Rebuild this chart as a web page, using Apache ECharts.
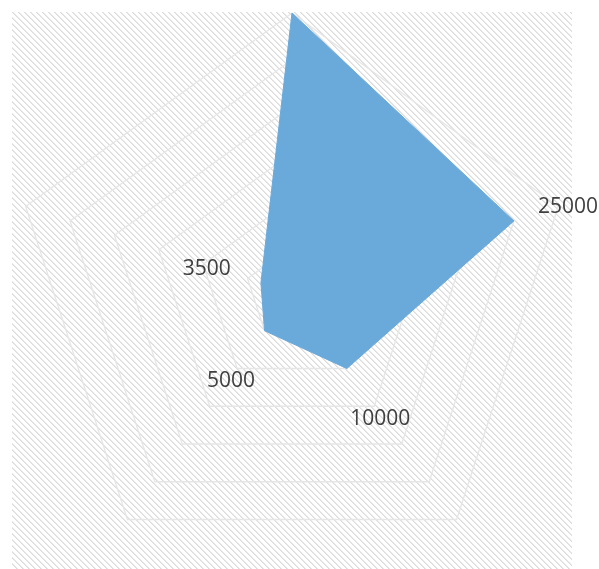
<!DOCTYPE html>
<html>
<head>
<meta charset="utf-8">
<script src="https://cdn.jsdelivr.net/npm/echarts@6/dist/echarts.min.js"></script>
<style>
html,body{margin:0;padding:0;background:#ffffff;}
#chart{width:599px;height:569px;}
</style>
</head>
<body>
<div id="chart"></div>
<script>
// Indicators in ECharts order (top, then counter-clockwise)
var indicatorNames = ['', '', '', '', ''];
var seriesValues = [30000, 3500, 5000, 10000, 25000];
var axisMax = 30000;
var axisSplits = 6;

// label placement: a padding (in value units) pushed outward along each axis
var LABEL_PAD = 6100;

function makeHatch() {
  var c = document.createElement('canvas');
  var n = 6;
  c.width = n; c.height = n;
  var ctx = c.getContext('2d');
  ctx.fillStyle = '#ffffff';
  ctx.fillRect(0, 0, n, n);
  for (var y = 0; y < n; y++) {
    for (var x = 0; x < n; x++) {
      var d = ((x - y) % n + n) % n;
      if (d === 0) { ctx.fillStyle = '#dcdcdc'; ctx.fillRect(x, y, 1, 1); }
      else if (d === 1) { ctx.fillStyle = '#e9e9e9'; ctx.fillRect(x, y, 1, 1); }
    }
  }
  return c;
}

var chart = echarts.init(document.getElementById('chart'), null, {renderer: 'canvas'});
var option = {
  animation: false,
  backgroundColor: '#ffffff',
  graphic: [{
    type: 'rect',
    z: -10,
    shape: {x: 12, y: 12, width: 560, height: 557},
    style: {fill: {image: makeHatch(), repeat: 'repeat'}},
    silent: true
  }],
  radar: {
    center: [292, 293],
    radius: 280,
    shape: 'polygon',
    splitNumber: axisSplits,
    indicator: indicatorNames.map(function (n) { return {name: n, min: 0, max: axisMax}; }),
    axisName: {show: false},
    axisLine: {show: false},
    axisTick: {show: false},
    axisLabel: {show: false},
    splitArea: {show: false},
    splitLine: {lineStyle: {color: '#e6e6e6', width: 1.3}}
  },
  series: [{
    type: 'radar',
    symbol: 'none',
    z: 3,
    lineStyle: {color: '#6AAADB', width: 1},
    areaStyle: {color: '#6AAADB', opacity: 1},
    data: [{value: seriesValues}]
  }, {
    type: 'radar',
    z: 4,
    symbol: 'circle',
    symbolSize: 1,
    itemStyle: {color: 'transparent'},
    lineStyle: {width: 0, opacity: 0},
    label: {
      show: true,
      position: 'inside',
      offset: [0, 4],
      color: '#404040',
      fontFamily: 'Open Sans',
      fontSize: 21,
      formatter: function (p) {
        if (p.dimensionIndex != null) return String(seriesValues[p.dimensionIndex]);
        return String(p.value - LABEL_PAD);
      }
    },
    data: [{value: seriesValues.map(function (v) { return v + LABEL_PAD; })}]
  }]
};
chart.setOption(option);
</script>
</body>
</html>
